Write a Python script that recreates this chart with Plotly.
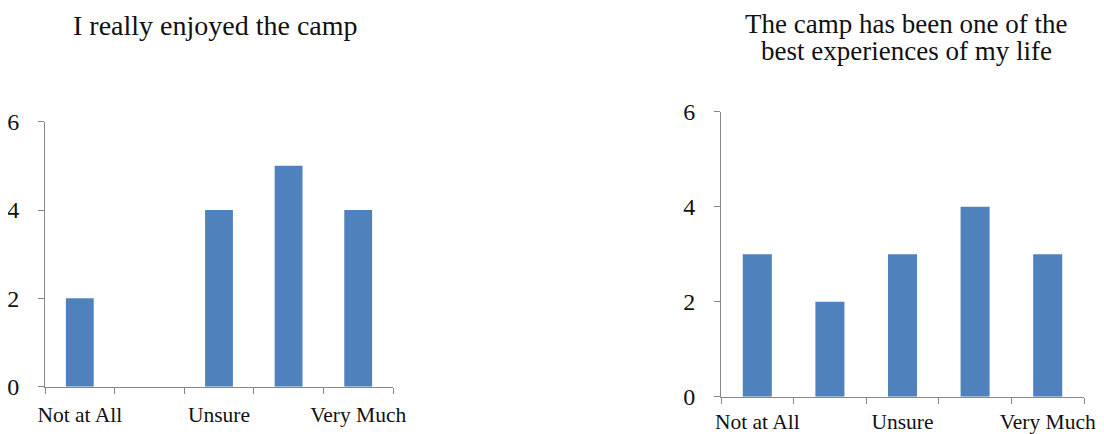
import plotly.graph_objects as go

# Data
positions = [1, 2, 3, 4, 5]
label_positions = [1, 3, 5]
label_text = ["Not at All", "Unsure", "Very Much"]
enjoyed_values = [2, 0, 4, 5, 4]
best_values = [3, 2, 3, 4, 3]
title_left = "I really enjoyed the camp"
title_right_lines = ["The camp has been one of the", "best experiences of my life"]
y_ticks = [0, 2, 4, 6]

BAR = "#4F81BD"
AX = "#888888"
FONT = "Liberation Serif"

fig = go.Figure()
fig.add_trace(go.Bar(x=positions, y=enjoyed_values, marker=dict(color=BAR, line=dict(width=0)),
                     xaxis="x", yaxis="y", showlegend=False, hoverinfo="skip"))
fig.add_trace(go.Bar(x=positions, y=best_values, marker=dict(color=BAR, line=dict(width=0)),
                     xaxis="x2", yaxis="y2", showlegend=False, hoverinfo="skip"))

# page body has an 8px margin; lay out in screen pixels and subtract it
OFF = 8
W, H = 1104 - OFF, 434 - OFF

def xdom(a, b):
    return [(a - OFF) / W, (b - OFF) / W]

def ydom(bottom_px, top_px):
    return [(H - (bottom_px - OFF)) / H, (H - (top_px - OFF)) / H]

def px(x, y):
    return (x - OFF) / W, 1 - (y - OFF) / H

def xaxis_style(standoff):
    return dict(range=[0.5, 5.5], tickvals=label_positions, ticktext=label_text,
                ticks="", showline=True, linecolor=AX, linewidth=1, showgrid=False,
                zeroline=False, tickfont=dict(family=FONT, size=21.5, color="#111"),
                ticklabelstandoff=standoff, automargin=False,
                minor=dict(tickvals=[0.5, 1.5, 2.5, 3.5, 4.5, 5.5], ticks="outside",
                           ticklen=6, tickcolor=AX, tickwidth=1, showgrid=False),
                fixedrange=True)

ycommon = dict(range=[0, 6], tickvals=y_ticks, ticks="outside", ticklen=6, tickcolor=AX,
               tickwidth=1, showline=True, linecolor=AX, linewidth=1, showgrid=False,
               zeroline=False, tickfont=dict(family=FONT, size=24, color="#111"),
               ticklabelstandoff=14, automargin=False, fixedrange=True)

annotations = []
tlx, tly = px(215, 26)
annotations.append(dict(text=title_left, x=tlx, y=tly, xref="paper", yref="paper",
                        xanchor="center", yanchor="middle", showarrow=False,
                        font=dict(family=FONT, size=28, color="#111")))
for line, ypx in zip(title_right_lines, [24, 51]):
    ax_, ay_ = px(906, ypx)
    annotations.append(dict(text=line, x=ax_, y=ay_, xref="paper", yref="paper",
                            xanchor="center", yanchor="middle", showarrow=False,
                            borderpad=0,
                            font=dict(family=FONT, size=27, color="#111")))

fig.update_layout(
    width=W, height=H,
    margin=dict(l=0, r=0, t=0, b=0, autoexpand=False),
    paper_bgcolor="white", plot_bgcolor="white",
    bargap=0.6,
    xaxis=dict(domain=xdom(45, 393), anchor="y", **xaxis_style(8)),
    yaxis=dict(domain=ydom(386.7, 121.7), anchor="x", **ycommon),
    xaxis2=dict(domain=xdom(721, 1084), anchor="y2", **xaxis_style(5)),
    yaxis2=dict(domain=ydom(396.7, 111.7), anchor="x2", **ycommon),
    annotations=annotations,
)

fig.write_html("out.html")
